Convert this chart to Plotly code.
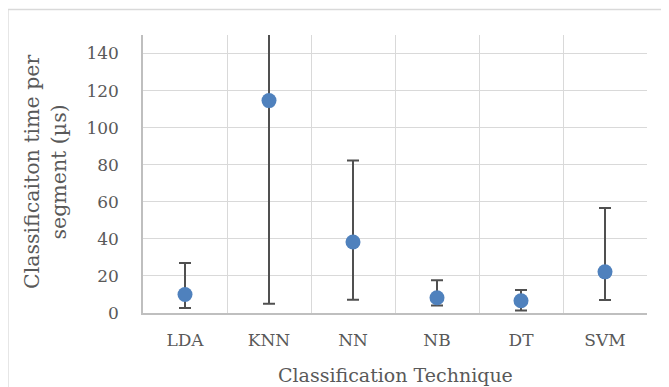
import plotly.graph_objects as go

categories = ["LDA", "KNN", "NN", "NB", "DT", "SVM"]
mean_time = [10.0, 114.6, 38.3, 8.2, 6.6, 22.2]
upper_bound = [27.0, 180.0, 82.3, 17.7, 12.4, 56.7]
lower_bound = [2.7, 5.0, 7.1, 4.1, 1.4, 7.0]
y_ticks = [0, 20, 40, 60, 80, 100, 120, 140]

err_plus = [u - m for u, m in zip(upper_bound, mean_time)]
err_minus = [m - l for m, l in zip(mean_time, lower_bound)]

FONT = "DejaVu Serif"
TXT = "#595959"

fig = go.Figure(go.Scatter(
    x=categories, y=mean_time, mode="markers",
    marker=dict(color="#4F81BD", size=15, line=dict(width=0)),
    error_y=dict(type="data", symmetric=False, array=err_plus, arrayminus=err_minus,
                 color="#505050", thickness=2, width=6),
    showlegend=False,
))

# page has an 8px body margin; work in page coordinates and subtract it
OFF = 8
W, H = 669 - OFF, 387 - OFF
L, T = 143 - OFF, 35 - OFF
R = W - (647 - OFF)
B = H - (313 - OFF)
pw, ph = W - L - R, H - T - B

def px_x(x):
    return (x - OFF - L) / pw

def px_y(y):
    return (H - B - (y - OFF)) / ph

fig.update_layout(
    width=W, height=H,
    margin=dict(l=L, r=R, t=T, b=B, autoexpand=False),
    paper_bgcolor="white", plot_bgcolor="white",
    font=dict(family=FONT, color=TXT, size=17),
    xaxis=dict(
        type="category", categoryorder="array", categoryarray=categories,
        range=[-0.5, 5.5], tickson="boundaries", automargin=False,
        showgrid=True, gridcolor="#D9D9D9", gridwidth=1.3,
        showline=True, linecolor="#BFBFBF", linewidth=1.5,
        ticks="", ticklabelstandoff=11, zeroline=False,
        tickfont=dict(size=17, family=FONT, color=TXT),
    ),
    yaxis=dict(
        range=[0, 150], tickvals=y_ticks, automargin=False,
        showgrid=True, gridcolor="#D9D9D9", gridwidth=1.3,
        showline=True, linecolor="#BFBFBF", linewidth=1.5,
        ticks="", ticklabelstandoff=19, zeroline=False,
        tickfont=dict(size=17, family=FONT, color=TXT),
    ),
    annotations=[
        dict(text="Classification Technique", xref="paper", yref="paper",
             x=0.5, y=px_y(374.5), xanchor="center", yanchor="middle",
             showarrow=False, font=dict(size=19, family=FONT, color=TXT)),
        dict(text="Classificaiton time per<br>segment (µs)", xref="paper", yref="paper",
             x=px_x(45), y=px_y(172), xanchor="center", yanchor="middle",
             textangle=-90, showarrow=False,
             font=dict(size=20.5, family=FONT, color=TXT)),
    ],
    shapes=[
        dict(type="rect", xref="paper", yref="paper",
             x0=px_x(8), x1=px_x(690), y0=px_y(400), y1=px_y(9.5),
             line=dict(color="#D9D9D9", width=1.3), fillcolor="rgba(0,0,0,0)", layer="below"),
    ],
)

fig.write_html("out.html")
